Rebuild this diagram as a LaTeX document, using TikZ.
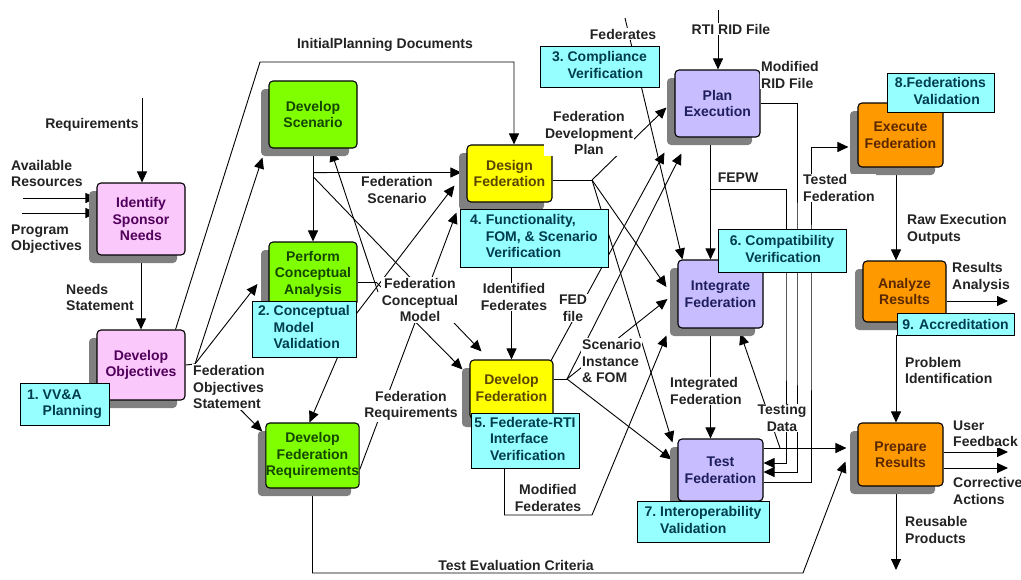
\documentclass[tikz,border=0pt]{standalone}
\usepackage{fontspec}
\setmainfont{Liberation Sans}
\usetikzlibrary{arrows.meta,calc,shadows}

\definecolor{pinkfill}{RGB}{250,200,250}
\definecolor{pinktext}{RGB}{80,0,90}
\definecolor{greenfill}{RGB}{128,255,0}
\definecolor{greentext}{RGB}{20,70,0}
\definecolor{yellowfill}{RGB}{255,255,0}
\definecolor{yellowtext}{RGB}{90,70,0}
\definecolor{lavfill}{RGB}{200,190,255}
\definecolor{lavtext}{RGB}{30,30,90}
\definecolor{orangefill}{RGB}{255,153,0}
\definecolor{orangetext}{RGB}{90,40,0}
\definecolor{cyanfill}{RGB}{150,255,255}
\definecolor{cyantext}{RGB}{0,60,80}
\definecolor{labeltext}{RGB}{35,35,35}
\definecolor{shadowgray}{RGB}{128,128,128}

% numbered check with a hanging indent
\newcommand\hang[2]{\begin{tabular}{@{}l@{\ }l@{}}#1&#2\end{tabular}}

\pgfdeclarelayer{wires}
\pgfsetlayers{wires,main}

\begin{document}
\begin{tikzpicture}[x=1pt,y=-1pt,
  font=\fontsize{14}{16.5}\selectfont\bfseries,
  >={Triangle[length=11pt,width=10pt]},
  wire/.style={line width=0.9pt,draw=black},
  arr/.style={wire,->},
  sz/.style 2 args={minimum width=#1pt,minimum height=#2pt},
  act/.style={draw=black,line width=1.1pt,rounded corners=4pt,align=center,inner sep=0pt,
    drop shadow={shadow xshift=-8pt,shadow yshift=-8pt,fill=shadowgray,opacity=1}},
  pinkact/.style={act,fill=pinkfill,text=pinktext},
  greenact/.style={act,fill=greenfill,text=greentext},
  yellowact/.style={act,fill=yellowfill,text=yellowtext},
  lavact/.style={act,fill=lavfill,text=lavtext},
  orangeact/.style={act,fill=orangefill,text=orangetext},
  check/.style={draw=black,line width=1pt,fill=cyanfill,text=cyantext,inner sep=0pt},
  lbl/.style={fill=white,inner sep=1pt,text=labeltext},
  lbll/.style={lbl,align=left,anchor=west},
  lblc/.style={lbl,align=center},
]
\useasboundingbox (0,0) rectangle (1021,579);

% ---------- activities ----------
\node[pinkact,sz={88}{72}] (isn) at (141,219) {Identify\\Sponsor\\Needs};
\node[pinkact,sz={88}{70}] (dob) at (141,365) {Develop\\Objectives};
\node[greenact,sz={88}{67}] (dsc) at (313,114.5) {Develop\\Scenario};
\node[greenact,sz={88}{64}] (pca) at (313,274) {Perform\\Conceptual\\Analysis};
\node[greenact,sz={89}{65}] (dfr) at (312.5,455.5) {Develop\\Federation\\Requirements};
\node[yellowact,sz={85}{57}] (dzf) at (509.5,173.5) {Design\\Federation};
\node[yellowact,sz={83}{59}] (dvf) at (511.5,389.5)
  {\raisebox{6pt}{\begin{tabular}{@{}c@{}}Develop\\Federation\end{tabular}}};
\node[lavact,sz={85}{67}] (pex) at (717.5,103.5) {Plan\\Execution};
\node[lavact,sz={85}{68}] (inf) at (720.5,294) {Integrate\\Federation};
\node[lavact,sz={85}{62}] (tfd) at (720.5,470) {Test\\Federation};
\node[orangeact,sz={85}{64}] (exf) at (900.5,135) {Execute\\Federation};
\node[orangeact,sz={83}{61}] (anr) at (904.5,291.5) {Analyze\\Results};
\node[orangeact,sz={85}{63}] (prr) at (900.5,454.5) {Prepare\\Results};

% ---------- VV&A checks ----------
\node[check,sz={89}{42}] (c1) at (64.5,404) {\hang{1.}{VV\&A\\&Planning}};
\node[check,sz={104}{56}] (c2) at (304,329) {\hang{2.}{Conceptual\\&Model\\&Validation}};
\node[check,sz={119}{41}] (c3) at (599.5,66.5) {\hang{3.}{Compliance\\&Verification}};
\node[check,sz={148}{58}] (c4) at (534,238) {\hang{4.}{Functionality,\\&FOM, \& Scenario\\&Verification}};
\node[check,sz={108}{55}] (c5) at (525,440.5) {\hang{5.}{Federate-RTI\\&Interface\\&Verification}};
\node[check,sz={128}{43}] (c6) at (782,250.5) {\hang{6.}{Compatibility\\&Verification}};
\node[check,sz={132}{41}] (c7) at (703,521.5) {\hang{7.}{Interoperability\\&Validation}};
\node[check,sz={107}{39}] (c8) at (940.5,92.5) {\begin{tabular}{@{}l@{}l@{}}8.&Federations\\&\hspace*{7pt}Validation\end{tabular}};
\node[check,sz={117}{22}] (c9) at (955.5,324) {9. Accreditation};

% ---------- flow labels ----------
\node[lblc] (lreq) at (92,125) {Requirements};
\node[lbll] (lavail) at (10,173.5) {Available\\Resources};
\node[lbll] (lprog) at (10,239) {Program\\Objectives};
\node[lbll] (lneeds) at (65,297.5) {Needs\\Statement};
\node[lblc] (lipd) at (385,45) {InitialPlanning Documents};
\node[lbll] (lfos) at (192,387) {Federation\\Objectives\\Statement};
\node[lblc] (lfsc) at (397,190) {Federation\\Scenario};
\node[lblc] (lfcm) at (420,300) {Federation\\Conceptual\\Model};
\node[lblc] (lfrq) at (411,406) {Federation\\Requirements};
\node[lblc] (lidf) at (514,297) {Identified\\Federates};
\node[lblc] (lfed) at (573,308) {FED\\file};
\node[lbll] (lsif) at (581,361) {Scenario\\Instance\\\& FOM};
\node[lblc] (lfdp) at (589,133) {Federation\\Development\\Plan};
\node[lblc] (lfeds) at (623,34) {Federates};
\node[lblc] (lrti) at (731,29) {RTI RID File};
\node[lbll] (lmrid) at (760,75) {Modified\\RID File};
\node[lblc] (lfepw) at (738,178) {FEPW};
\node[lbll] (ltested) at (802,188) {Tested\\Federation};
\node[lbll] (lraw) at (906,229.5) {Raw Execution\\Outputs};
\node[lbll] (lresa) at (951,277.5) {Results\\Analysis};
\node[lbll] (lprob) at (904,370.5) {Problem\\Identification};
\node[lbll] (luser) at (952,433.5) {User\\Feedback};
\node[lbll] (lcorr) at (952,491) {Corrective\\Actions};
\node[lbll] (lreuse) at (904,530) {Reusable\\Products};
\node[lbll] (lintg) at (669,391) {Integrated\\Federation};
\node[lblc] (ltest) at (782,418) {Testing\\Data};
\node[lblc] (lmodf) at (548,498) {Modified\\Federates};
\node[lblc] (ltec) at (516,565) {Test Evaluation Criteria};

% ---------- junctions and free ends ----------
\coordinate (reqtop) at (142,98);
\coordinate (avin) at (23,198);
\coordinate (pgin) at (22,213);
\coordinate (ipc) at (260,62);
\coordinate (fos) at (195,364);
\coordinate (J1) at (376,282);
\coordinate (Jd) at (592,180);
\coordinate (Jv) at (567,379);
\coordinate (mf1) at (592,515);
\coordinate (tec) at (803,573);
\coordinate (fedtop) at (625,18);
\coordinate (rtitop) at (718,10);
\coordinate (mrid) at (797,300);
\coordinate (fepwj) at (710.5,189);
\coordinate (fepwr) at (786,300);
\coordinate (tfr) at (811,300);
\coordinate (tdj) at (780,448);
\coordinate (ra) at (1008,301);
\coordinate (pi) at (896,335);
\coordinate (uf) at (1008,452);
\coordinate (ca) at (1008,468);
\coordinate (rp) at (896,570);

% ---------- connectors ----------
\begin{pgfonlayer}{wires}
\draw[arr] (reqtop) -- (reqtop |- isn.north);
\draw[arr] (avin) -- (avin -| isn.west);
\draw[arr] (pgin) -- (pgin -| isn.west);
\draw[arr] (isn.south) -- (dob.north);
\draw[arr] ([xshift=-10pt]dob.north east) -- (ipc) -| ([xshift=4.5pt]dzf.north);

\draw[wire] (dob.east) -- (fos);
\draw[arr] (fos) -- ($(dsc.south west)+(-6,9)$);
\draw[arr] (fos) -- ($(pca.west)+(-11,10)$);
\draw[arr] (fos) -- ($(dfr.north west)+(-3,9)$);

\draw[arr] (dsc.south) -- (pca.north);
\draw[arr] ($(dsc.south)+(1,24)$) -- ($(dzf.west)+(-5,-1)$);
\draw[arr] ($(dsc.south)+(1,29)$) -- ($(dvf.north west)+(12,-8)$);

\draw[wire] ($(pca.east)+(0,8)$) -- (J1);
\draw[arr] ($(J1)+(2,10)$) -- ($(dsc.south)+(18,2)$);
\draw[arr] (J1) -- ($(dvf.north west)+(-7,10)$);
\draw[arr] ($(c2.north east)+(0,13)$) -- ($(dzf.west)+(-12,12)$);
\draw[arr] ($(c2.north east)+(0,13)$) -- ($(dfr.north)+(-3,0)$);
\draw[arr] ($(dfr.east)+(0,14)$) -- ($(dzf.south west)+(-10,10)$);

\draw[arr] (dvf.north |- c4.south) -- (dvf.north);

\draw[wire] (dzf.east |- Jd) -- (Jd);
\draw[arr] (Jd) -- ($(pex.west)+(-8,4)$);
\draw[arr] (Jd) -- ($(inf.west)+(-11,-7)$);
\draw[arr] (Jd) -- ($(tfd.north west)+(-5,4)$);

\draw[wire] (dvf.east |- Jv) -- (Jv);
\draw[arr] (Jv) -- ($(pex.south west)+(7,16)$);
\draw[arr] (Jv) -- ($(inf.west)+(-10,5)$);
\draw[arr] (Jv) -- ($(tfd.north west)+(-6,21)$);
\draw[arr] ($(dvf.north east)+(-3,2)$) -- ($(pex.south west)+(-10,15)$);
\draw[arr] ($(c5.south west)+(34,0)$) |- (mf1) -- ($(inf.south west)+(-11,7)$);

\draw[arr] (dfr.south) |- (tec) -- ($(prr.south west)+(-12,-25)$);

\draw[arr] (fedtop) -- ($(inf.north west)+(5,0)$);
\draw[arr] (rtitop) -- (rtitop |- pex.north);
\draw[arr] (pex.east) -| (mrid) |- ($(tfd.east)+(0,2)$);
\draw[arr] ($(pex.south)+(-7,0)$) -- ($(inf.north)+(-10,0)$);
\draw[arr] (fepwj) -| (fepwr) |- ($(tfd.east)+(0,-7)$);
\draw[arr] ($(tfd.east)+(0,12)$) -| (tfr) |- ($(exf.west)+(-9,12)$);
\draw[arr] ($(inf.south)+(-10,0)$) -- ($(tfd.north)+(-10,0)$);
\draw[arr] ($(tfd.east)+(0,-22)$) -- ($(prr.west)+(-11,-6.5)$);
\draw[arr] (tdj) -- ($(inf.south)+(20,5)$);

\coordinate (ea) at ($(exf.south)+(-4.5,0)$);
\draw[arr] (ea) -- (ea |- anr.north);
\draw[arr] (anr.east |- ra) -- (ra);
\draw[arr] (pi) -- (pi |- prr.north);
\draw[arr] (prr.east |- uf) -- (uf);
\draw[arr] (prr.east |- ca) -- (ca);
\draw[arr] (rp |- prr.south) -- (rp);
\end{pgfonlayer}
\end{tikzpicture}
\end{document}
